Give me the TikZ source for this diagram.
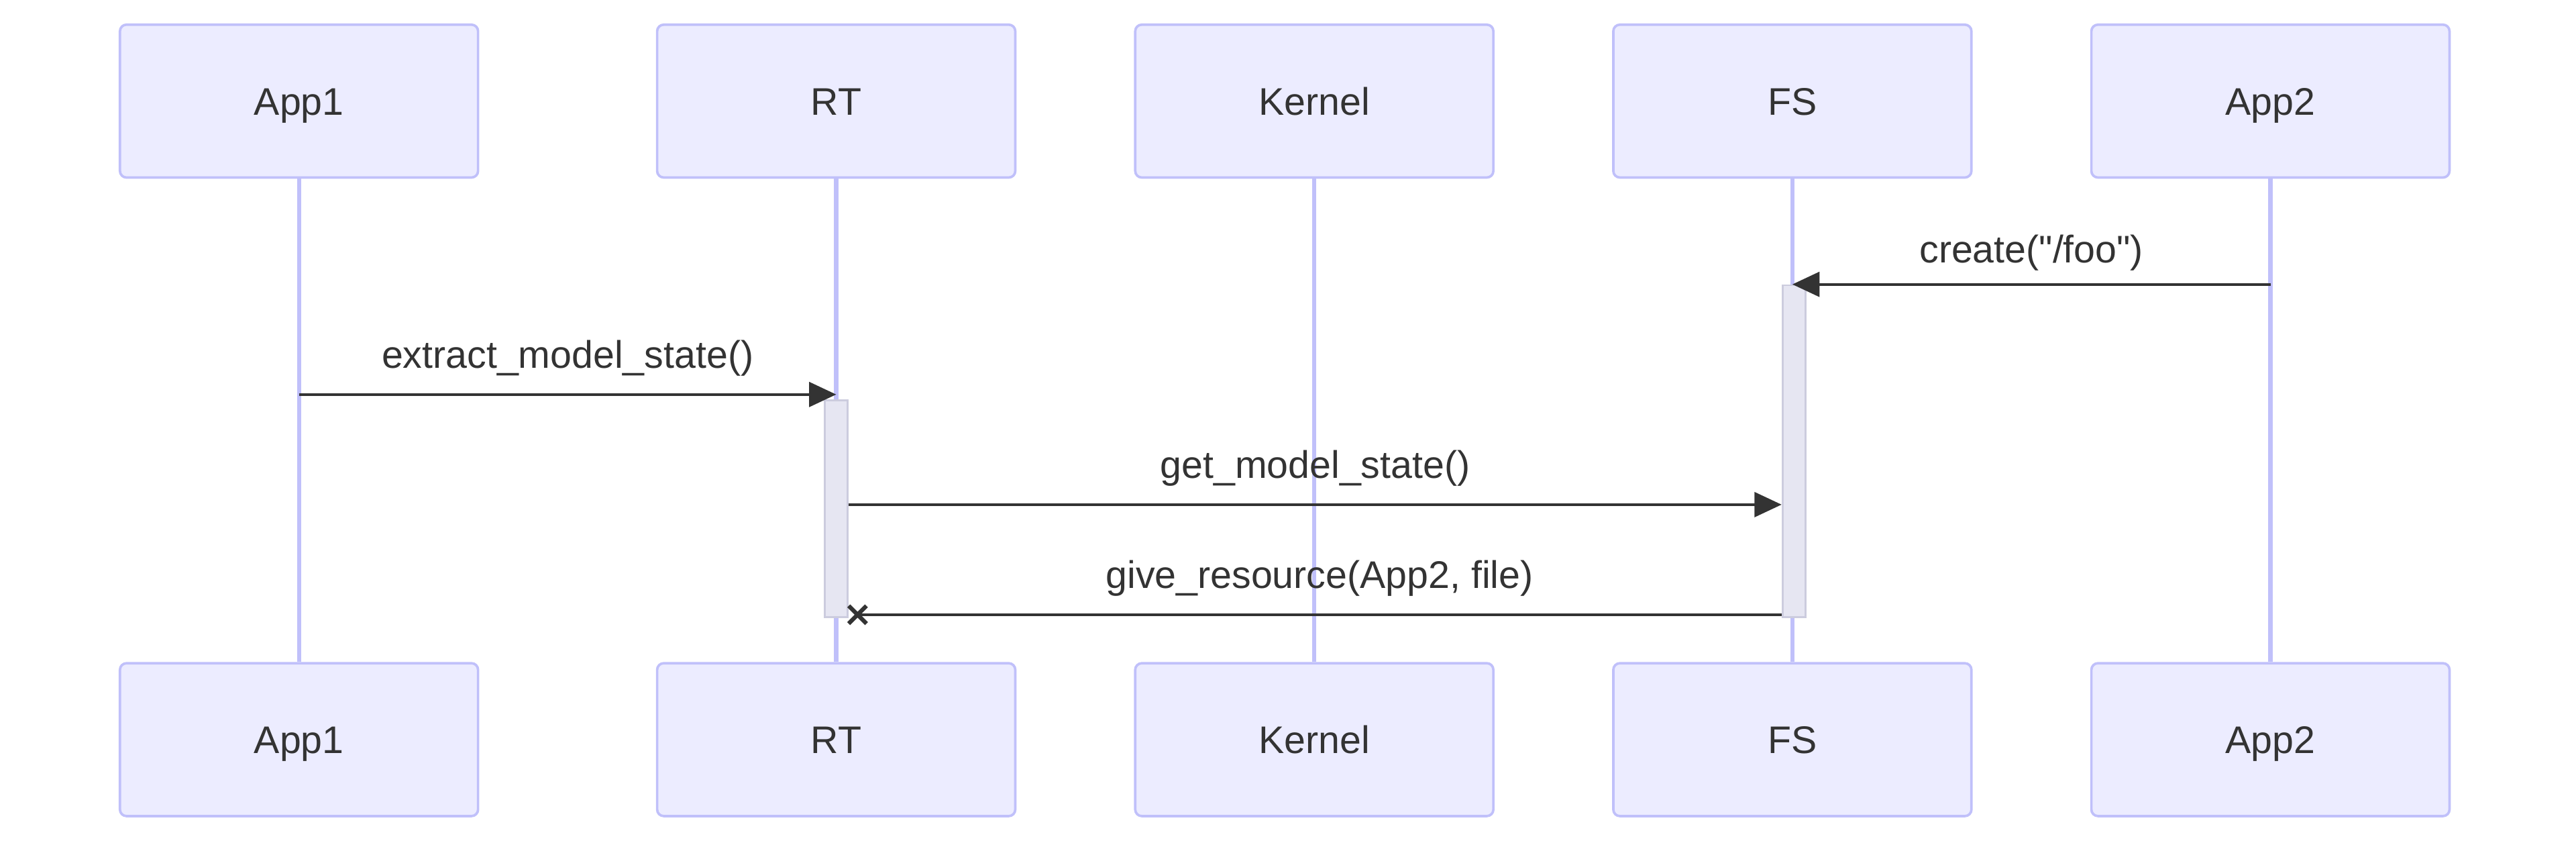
\documentclass[tikz,border=0pt]{standalone}
\usepackage{fontspec}
\setmainfont{Liberation Sans}[Ligatures=TeXOff]
\usetikzlibrary{arrows.meta}
\definecolor{actfill}{RGB}{236,236,255}
\definecolor{actline}{RGB}{192,192,250}
\definecolor{actvfill}{RGB}{230,230,242}
\definecolor{actvline}{RGB}{204,204,222}
\definecolor{txt}{RGB}{51,51,51}
\tikzset{
  actor/.style={draw=actline, fill=actfill, line width=1.5pt, rounded corners=4pt,
    minimum width=218pt, minimum height=93pt, text height=16.8pt, text depth=0pt,
    text=txt, font=\fontsize{23.4}{28}\selectfont},
  lifeline/.style={draw=actline, line width=2.5pt},
  activebox/.style={draw=actvline, fill=actvfill, line width=1.1pt, inner sep=0pt,
    minimum width=14pt, anchor=north},
  msg/.style={draw=txt, line width=1.7pt, -{Triangle[length=16.5pt, width=15pt]}},
  msgline/.style={draw=txt, line width=1.7pt},
  crossline/.style={draw=txt, line width=2.5pt},
  msglabel/.style={anchor=base, yshift=16pt, text=txt, font=\fontsize{23.4}{28}\selectfont},
}
\begin{document}
\begin{tikzpicture}[x=1pt, y=-1pt]
\useasboundingbox (0,0) rectangle (1568,515);
% actors
\node[actor] (app1top) at (182,61.5) {App1};
\node[actor] (rttop) at (509,61.5) {RT};
\node[actor] (kerneltop) at (800,61.5) {Kernel};
\node[actor] (fstop) at (1091,61.5) {FS};
\node[actor] (app2top) at (1382,61.5) {App2};
\node[actor] (app1bot) at (182,450) {App1};
\node[actor] (rtbot) at (509,450) {RT};
\node[actor] (kernelbot) at (800,450) {Kernel};
\node[actor] (fsbot) at (1091,450) {FS};
\node[actor] (app2bot) at (1382,450) {App2};
% lifelines
\draw[lifeline] (app1top) -- (app1bot);
\draw[lifeline] (rttop) -- (rtbot);
\draw[lifeline] (kerneltop) -- (kernelbot);
\draw[lifeline] (fstop) -- (fsbot);
\draw[lifeline] (app2top) -- (app2bot);
% message rows
\coordinate (row1) at (0,173);
\coordinate (row2) at (0,240);
\coordinate (row3) at (0,307);
\coordinate (row4) at (0,374);
% activations
\node[activebox, minimum height=202pt] (fsact) at (1092,173) {};
\node[activebox, minimum height=132pt] (rtact) at (509,243) {};
% messages
\draw[msg] (app2top |- row1) -- (fstop |- row1)
  node[msglabel, midway, yshift=-3pt] {create("/foo")};
\draw[msg] (app1top |- row2) -- (rttop |- row2) node[msglabel, midway] {extract\_model\_state()};
\draw[msg] (rtact.east |- row3) -- (fsact.west |- row3) node[msglabel, midway] {get\_model\_state()};
\coordinate (xmark) at (522,374);
\draw[msgline] (fsact.west |- row4) -- (xmark) node[msglabel, midway] {give\_resource(App2, file)};
\draw[crossline] (xmark) ++(-5.4,-5.4) -- ++(10.8,10.8) (xmark) ++(-5.4,5.4) -- ++(10.8,-10.8);
\end{tikzpicture}
\end{document}
